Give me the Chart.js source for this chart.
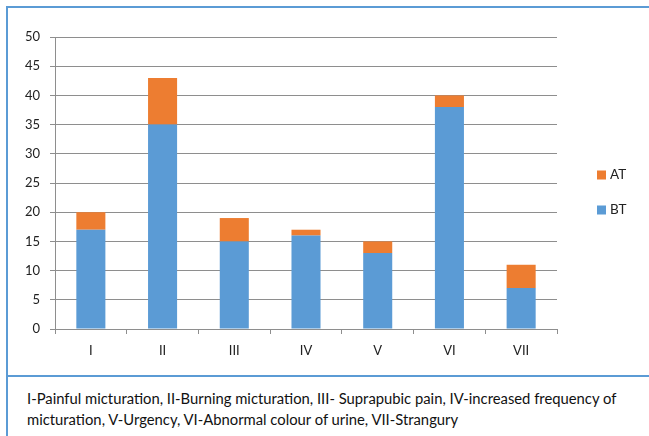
<!DOCTYPE html>
<html lang="en">
<head>
    <meta charset="UTF-8">
    <title>BT / AT symptoms</title>
    <script src="https://cdn.jsdelivr.net/npm/chart.js"></script>
    <style>
        body {
            margin: 0;
            background: #fff;
            font-family: Lato, "Liberation Sans", sans-serif;
        }
        .frame {
            position: absolute;
            left: 6px;
            top: 6px;
            width: 700px;
            height: 500px;
            border-left: 2px solid #5B9BD5;
            border-top: 2px solid #5B9BD5;
        }
        .divider {
            position: absolute;
            left: 6px;
            top: 375px;
            width: 700px;
            height: 2px;
            background: #5B9BD5;
        }
        .chart-box {
            position: absolute;
            left: 0;
            top: 0;
            width: 649px;
            height: 376px;
        }
        .caption {
            position: absolute;
            left: 27px;
            top: 388px;
            font-size: 14.8px;
            line-height: 21px;
            color: #111;
            white-space: nowrap;
        }
    </style>
</head>
<body>
    <div class="frame"></div>
    <div class="chart-box"><canvas id="symptoms"></canvas></div>
    <div class="divider"></div>
    <div class="caption">
        I-Painful micturation, II-Burning micturation, III- Suprapubic pain, IV-increased frequency of<br>
        micturation, V-Urgency, VI-Abnormal colour of urine, VII-Strangury
    </div>

    <script>
        // values
        const categories = ['I', 'II', 'III', 'IV', 'V', 'VI', 'VII'];
        const btValues = [17, 35, 15, 16, 13, 38, 7];
        const atValues = [3, 8, 4, 1, 2, 2, 4];

        // legend drawn to the right of the plot (AT above BT)
        const sideLegend = {
            id: 'sideLegend',
            afterDraw(chart) {
                const ctx = chart.ctx;
                const items = [chart.data.datasets[1], chart.data.datasets[0]];
                ctx.save();
                ctx.font = '13.5px Lato, "Liberation Sans", sans-serif';
                ctx.textBaseline = 'middle';
                items.forEach(function (ds, i) {
                    const y = 175 + i * 35;
                    ctx.fillStyle = ds.backgroundColor;
                    ctx.fillRect(597, y - 4.5, 9, 9);
                    ctx.fillStyle = '#222';
                    ctx.fillText(ds.label, 610, y);
                });
                ctx.restore();
            }
        };

        const ctx = document.getElementById('symptoms').getContext('2d');
        const chart = new Chart(ctx, {
            type: 'bar',
            data: {
                labels: categories,
                datasets: [{
                    label: 'BT',
                    data: btValues,
                    backgroundColor: '#5B9BD5'
                }, {
                    label: 'AT',
                    data: atValues,
                    backgroundColor: '#ED7D31'
                }]
            },
            options: {
                responsive: true,
                maintainAspectRatio: false,
                animation: false,
                layout: {
                    padding: { top: 37, right: 92, bottom: 0, left: 0 }
                },
                datasets: {
                    bar: { barPercentage: 0.405, categoryPercentage: 1 }
                },
                plugins: {
                    legend: { display: false },
                    tooltip: { enabled: false }
                },
                scales: {
                    x: {
                        stacked: true,
                        afterFit: function (scale) { scale.height = 47; },
                        grid: {
                            offset: true,
                            drawOnChartArea: false,
                            drawTicks: true,
                            tickLength: 5,
                            color: '#8e8e8e'
                        },
                        border: { color: '#8e8e8e' },
                        ticks: {
                            padding: 9,
                            color: '#222',
                            font: { family: 'Lato, "Liberation Sans", sans-serif', size: 13 }
                        }
                    },
                    y: {
                        stacked: true,
                        min: 0,
                        max: 50,
                        afterFit: function (scale) { scale.width = 55; },
                        grid: {
                            color: '#8e8e8e',
                            tickLength: 5
                        },
                        border: { color: '#8e8e8e' },
                        ticks: {
                            stepSize: 5,
                            padding: 10,
                            color: '#222',
                            font: { family: 'Lato, "Liberation Sans", sans-serif', size: 13 }
                        }
                    }
                }
            },
            plugins: [sideLegend]
        });
    </script>
</body>
</html>
